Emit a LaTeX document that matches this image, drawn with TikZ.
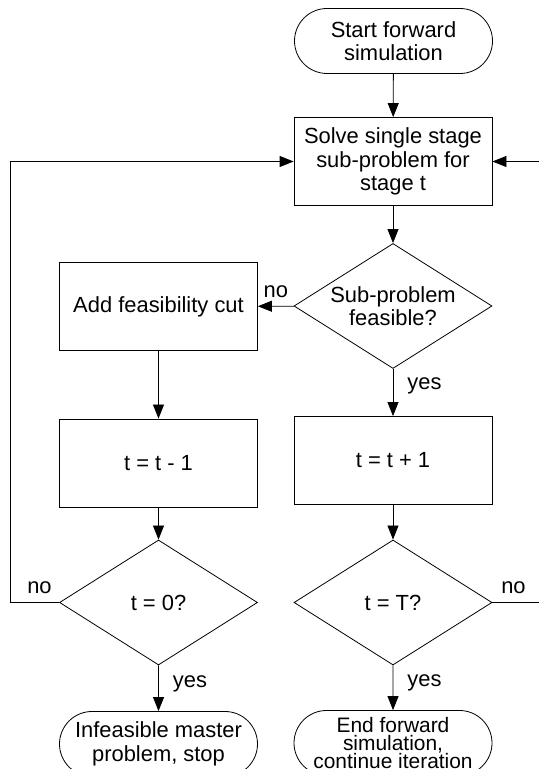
\documentclass[tikz,border=0pt]{standalone}
\usepackage{fontspec}
\setmainfont{Liberation Sans}
\usetikzlibrary{shapes.geometric,shapes.misc,arrows.meta}

\begin{document}
\begin{tikzpicture}[x=1bp, y=1bp,
   every node/.style={font=\fontsize{22}{23.5}\selectfont},
   terminal/.style={draw, line width=0.8bp, rounded rectangle, minimum width=198bp, minimum height=65bp, inner sep=0pt, align=center},
   process/.style={draw, line width=0.8bp, rectangle, minimum width=198bp, minimum height=88bp, inner sep=0pt, align=center},
   decision/.style={draw, line width=0.8bp, diamond, aspect=1.6, minimum width=198bp, minimum height=125bp, inner sep=-14bp, align=center},
   flow/.style={line width=0.8bp, -{Triangle[length=14bp,width=11bp]}},
   lbl/.style={inner sep=0pt}]

   \useasboundingbox (0,0) rectangle (539,769);
   \clip (0,0) rectangle (539,769);

   % 処理ブロック
   \node [terminal] (start) at (393.5,728) {Start forward\\simulation};
   \node [process] (solve) at (393,607.5) {Solve single stage\\sub-problem for\\stage t};
   \node [decision] (feas) at (393,463) {Sub-problem\\feasible?};
   \node [process] (cut) at (158.5,462.5) {Add feasibility cut};
   \node [process] (dec) at (158.5,306) {t = t - 1};
   \node [process] (inc) at (393,308.5) {t = t + 1};
   \node [decision] (zero) at (158.5,166.5) {t = 0?};
   \node [decision] (last) at (393,166.5) {t = T?};
   \node [terminal] (stop) at (158.5,25) {Infeasible master\\problem, stop};
   \node [terminal, font=\fontsize{21}{18.5}\selectfont] (finish) at (393,26) {End forward\\simulation,\\continue iteration};

   % 矢印
   \draw [flow] (start) -- (solve);
   \draw [flow] (solve) -- (feas);
   \draw [flow] (feas) -- node [lbl, above=8bp] {no} (cut);
   \draw [flow] (cut) -- (dec);
   \draw [flow] (feas) -- node [lbl, right=14bp, pos=0.35] {yes} (inc);
   \draw [flow] (dec) -- (zero);
   \draw [flow] (inc) -- (last);
   \draw [flow] (zero) -- node [lbl, right=14bp, pos=0.4] {yes} (stop);
   \draw [flow] (last) -- node [lbl, right=14bp, pos=0.4] {yes} (finish);

   % ループ
   \coordinate (lft) at (10,0);
   \coordinate (rgt) at (545,0);
   \draw [flow] (zero.west) -- node [lbl, above=8bp, pos=0.4] {no} (zero.west -| lft) |- (solve.west);
   \draw [flow] (last.east) -- node [lbl, above=8bp, pos=0.4] {no} (last.east -| rgt) |- (solve.east);

\end{tikzpicture}
\end{document}
